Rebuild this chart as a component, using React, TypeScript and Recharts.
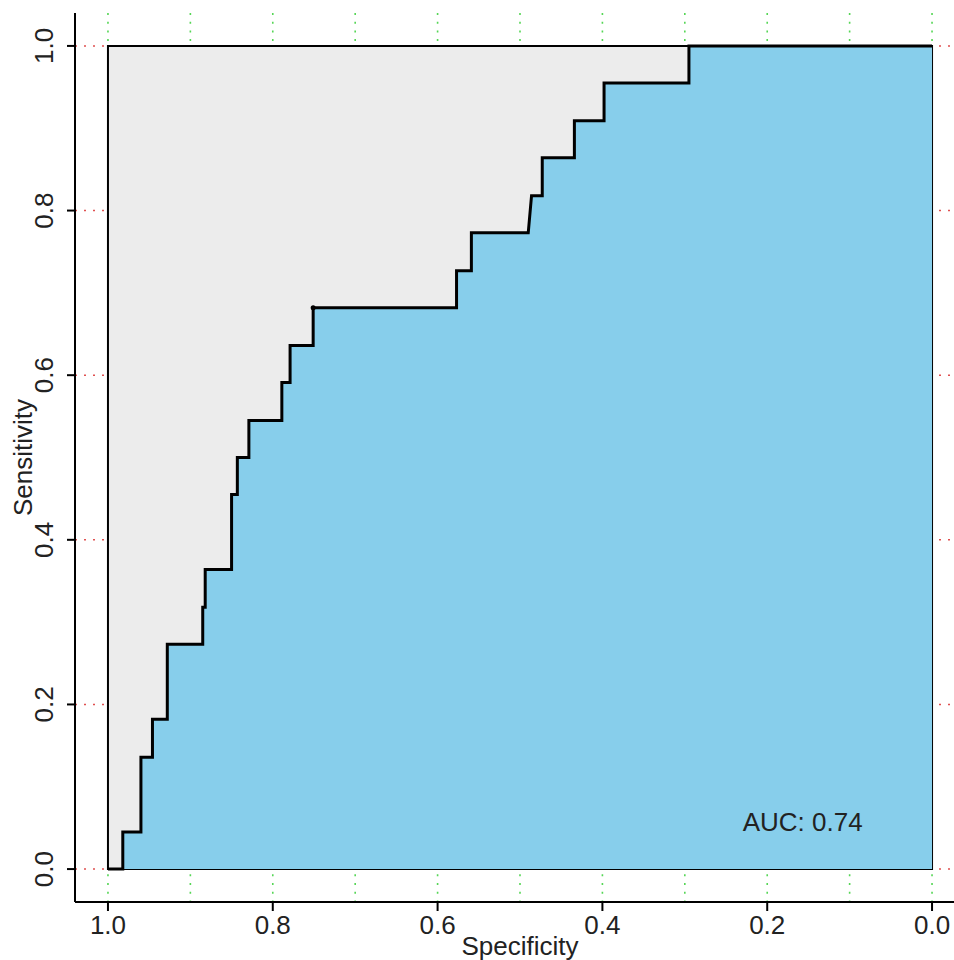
import {
  ComposedChart,
  Area,
  XAxis,
  YAxis,
  CartesianGrid,
  ReferenceArea,
  ReferenceDot,
} from 'recharts';

// ROC points (specificity, sensitivity)
const specificity = [
  1.0, 0.982, 0.982, 0.96, 0.96, 0.946, 0.946, 0.928, 0.928, 0.885, 0.885, 0.882, 0.882,
  0.85, 0.85, 0.843, 0.843, 0.829, 0.829, 0.789, 0.789, 0.779, 0.779, 0.751, 0.751,
  0.577, 0.577, 0.559, 0.559, 0.49, 0.486, 0.473, 0.473, 0.434, 0.434, 0.398, 0.398,
  0.295, 0.295, 0.0,
];
const sensitivity = [
  0, 0, 0.045, 0.045, 0.136, 0.136, 0.182, 0.182, 0.273, 0.273, 0.318, 0.318, 0.364,
  0.364, 0.455, 0.455, 0.5, 0.5, 0.545, 0.545, 0.591, 0.591, 0.636, 0.636, 0.682,
  0.682, 0.727, 0.727, 0.773, 0.773, 0.818, 0.818, 0.864, 0.864, 0.909, 0.909, 0.955,
  0.955, 1.0, 1.0,
];
const axisTicks = [0, 0.2, 0.4, 0.6, 0.8, 1.0];
const gridX = [0, 0.1, 0.2, 0.3, 0.4, 0.5, 0.6, 0.7, 0.8, 0.9, 1.0];
const gridY = [0, 0.2, 0.4, 0.6, 0.8, 1.0];
const threshold = { spec: 0.751, sens: 0.682 };
const aucText = 'AUC: 0.74';

const data = specificity.map((s, i) => ({ spec: s, sens: sensitivity[i] }));

const FONT = '"Liberation Sans", Arial, sans-serif';

function YTick(props: any) {
  const { y, payload } = props;
  const tx = 53;
  return (
    <text
      x={tx}
      y={y}
      transform={`rotate(-90 ${tx} ${y})`}
      textAnchor="middle"
      fontSize={26}
      fontFamily={FONT}
      fill="#222"
    >
      {Number(payload.value).toFixed(1)}
    </text>
  );
}

function YLabel(props: any) {
  const vb = props.viewBox || {};
  const cy = vb.y + vb.height / 2;
  const tx = 32;
  return (
    <text
      x={tx}
      y={cy}
      transform={`rotate(-90 ${tx} ${cy})`}
      textAnchor="middle"
      fontSize={26}
      fontFamily={FONT}
      fill="#222"
    >
      Sensitivity
    </text>
  );
}

export default function App() {
  return (
    <div style={{ position: 'absolute', left: 0, top: 0, width: 954, height: 960, overflow: 'hidden', background: '#fff' }}>
      <ComposedChart
        width={970}
        height={960}
        data={data}
        margin={{ top: 13, right: 5, left: 0, bottom: 0 }}
      >
        <CartesianGrid
          horizontal={false}
          verticalValues={gridX}
          stroke="#55d655"
          strokeWidth={1.6}
          strokeDasharray="2 6.7"
        />
        <CartesianGrid
          vertical={false}
          horizontalValues={gridY}
          stroke="#e05050"
          strokeWidth={1.6}
          strokeDasharray="2 7"
        />
        <XAxis
          dataKey="spec"
          type="number"
          domain={[-0.04, 1.04]}
          reversed
          allowDataOverflow
          ticks={axisTicks}
          tickFormatter={(v: number) => v.toFixed(1)}
          height={58}
          tickSize={9}
          tickMargin={5}
          interval={0}
          axisLine={{ stroke: '#000', strokeWidth: 2 }}
          tickLine={{ stroke: '#000', strokeWidth: 2 }}
          tick={{ fontSize: 26, fontFamily: FONT, fill: '#222' }}
          label={{ value: 'Specificity', position: 'insideBottom', offset: 5, fontSize: 26, fontFamily: FONT, fill: '#222' }}
        />
        <XAxis
          xAxisId="top"
          orientation="top"
          type="number"
          domain={[-0.04, 1.04]}
          reversed
          height={0}
          tick={false}
          tickLine={false}
          axisLine={{ stroke: '#000', strokeWidth: 2 }}
        />
        <YAxis
          type="number"
          domain={[-0.04, 1.04]}
          allowDataOverflow
          ticks={axisTicks}
          width={75}
          tickSize={8}
          interval={0}
          axisLine={{ stroke: '#000', strokeWidth: 2 }}
          tickLine={{ stroke: '#000', strokeWidth: 2 }}
          tick={<YTick />}
          label={<YLabel />}
        />
        <ReferenceArea
          x1={1}
          x2={0}
          y1={0}
          y2={1}
          fill="#ececec"
          fillOpacity={1}
          stroke="#000"
          strokeWidth={2}
        />
        <Area
          type="linear"
          dataKey="sens"
          stroke="#000"
          strokeWidth={3}
          fill="#87ceeb"
          fillOpacity={1}
          dot={false}
          activeDot={false}
          isAnimationActive={false}
        />
        <ReferenceDot x={threshold.spec} y={threshold.sens} r={2.5} fill="#000" stroke="none" />
        <ReferenceDot
          x={0.157}
          y={0.057}
          r={0}
          fill="none"
          stroke="none"
          label={{ value: aucText, position: 'center', fontSize: 26, fontFamily: FONT, fill: '#222' }}
        />
      </ComposedChart>
    </div>
  );
}
